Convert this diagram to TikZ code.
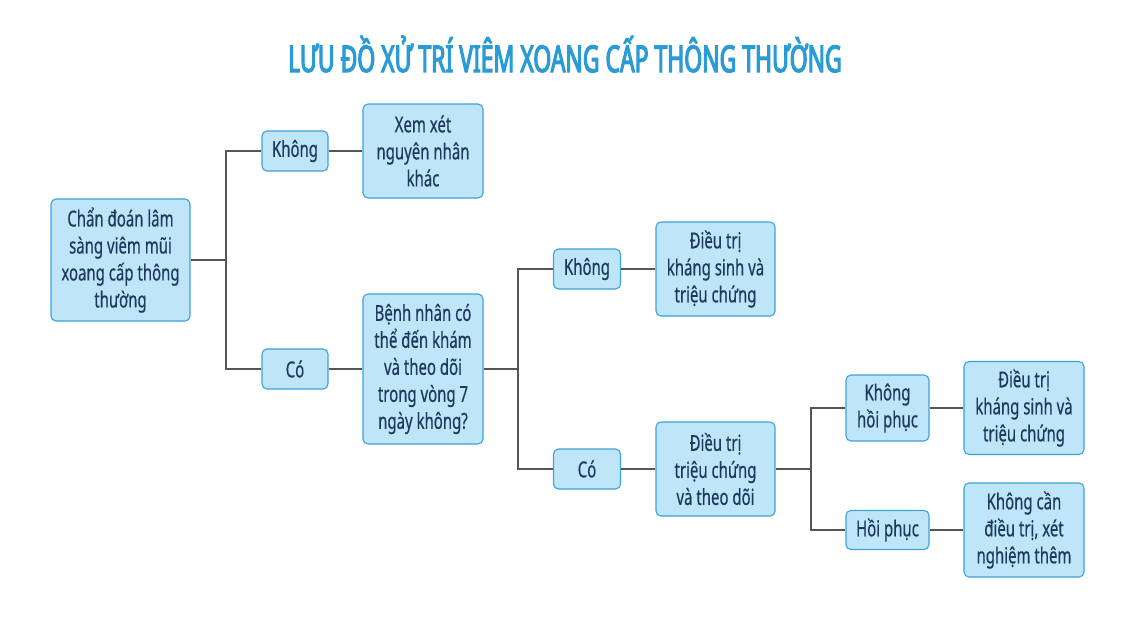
\documentclass[tikz,border=0pt]{standalone}
\usepackage{fontspec}
\setmainfont{Noto Sans}[FakeStretch=0.68, FakeBold=0.5]
\newfontfamily\titlefont{Noto Sans}[FakeStretch=0.62, FakeBold=3]
\definecolor{boxfill}{HTML}{BFE6F8}
\definecolor{boxdraw}{HTML}{3DA2DB}
\definecolor{boxtext}{HTML}{1E3A5C}
\definecolor{titlecol}{HTML}{2B9BD6}
\definecolor{linecol}{HTML}{555555}
\begin{document}
\begin{tikzpicture}[x=1pt,y=-1pt,
  box/.style={draw=boxdraw, fill=boxfill, rounded corners=5pt, line width=1.1pt,
    align=center, text=boxtext, inner sep=0pt, font=\fontsize{22}{27}\selectfont},
  conn/.style={draw=linecol, line width=1.4pt}]
\fill[white] (0,0) rectangle (1128,624);
\useasboundingbox (0,0) rectangle (1128,624);
\node[text=titlecol, font=\titlefont\fontsize{37}{40}\selectfont] (title) at (565,54) {LƯU ĐỒ XỬ TRÍ VIÊM XOANG CẤP THÔNG THƯỜNG};
\node[box, minimum width=139pt, minimum height=122pt] (root) at (120.5,260) {Chẩn đoán lâm\\sàng viêm mũi\\xoang cấp thông\\thường};
\node[box, minimum width=66pt, minimum height=40pt] (k1) at (295,151) {Không};
\node[box, minimum width=120pt, minimum height=94pt] (xem) at (423,151) {Xem xét\\nguyên nhân\\khác};
\node[box, minimum width=66pt, minimum height=40pt] (c1) at (295,369) {Có};
\node[box, minimum width=120pt, minimum height=150pt] (bn) at (423,369) {Bệnh nhân có\\thể đến khám\\và theo dõi\\trong vòng 7\\ngày không?};
\node[box, minimum width=67pt, minimum height=40pt] (k2) at (587,269) {Không};
\node[box, minimum width=119pt, minimum height=94pt] (dt1) at (715.5,269) {Điều trị\\kháng sinh và\\triệu chứng};
\node[box, minimum width=67pt, minimum height=40pt] (c2) at (587,469) {Có};
\node[box, minimum width=119pt, minimum height=94pt] (dt2) at (715.5,469) {Điều trị\\triệu chứng\\và theo dõi};
\node[box, minimum width=83pt, minimum height=66pt] (khp) at (887.5,408) {Không\\hồi phục};
\node[box, minimum width=120pt, minimum height=93pt] (dt3) at (1024,408) {Điều trị\\kháng sinh và\\triệu chứng};
\node[box, minimum width=83pt, minimum height=39pt] (hp) at (887.5,530) {Hồi phục};
\node[box, minimum width=120pt, minimum height=94pt] (kc) at (1024,530) {Không cần\\điều trị, xét\\nghiệm thêm};
\coordinate (j1) at (226,260);
\coordinate (j2) at (518,369);
\coordinate (j3) at (811,469);
\draw[conn] (root.east) -- (j1);
\draw[conn] (k1.west) -| (j1);
\draw[conn] (c1.west) -| (j1);
\draw[conn] (k1.east) -- (xem.west);
\draw[conn] (c1.east) -- (bn.west);
\draw[conn] (bn.east) -- (j2);
\draw[conn] (k2.west) -| (j2);
\draw[conn] (c2.west) -| (j2);
\draw[conn] (k2.east) -- (dt1.west);
\draw[conn] (c2.east) -- (dt2.west);
\draw[conn] (dt2.east) -- (j3);
\draw[conn] (khp.west) -| (j3);
\draw[conn] (hp.west) -| (j3);
\draw[conn] (khp.east) -- (dt3.west);
\draw[conn] (hp.east) -- (kc.west);
\end{tikzpicture}
\end{document}
